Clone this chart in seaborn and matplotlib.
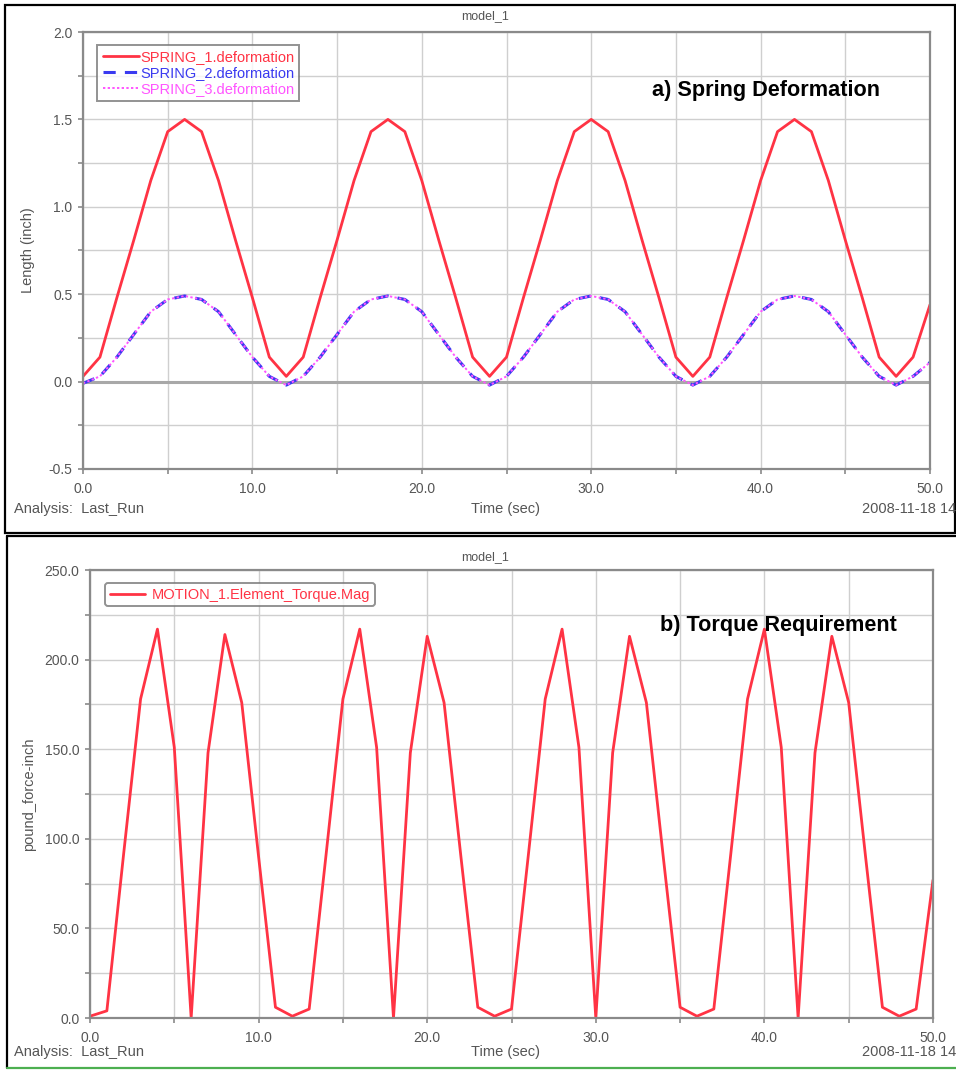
import matplotlib
matplotlib.use("Agg")
import matplotlib.pyplot as plt
import seaborn as sns
import pandas as pd
from matplotlib.patches import Rectangle
from matplotlib.lines import Line2D
from matplotlib.ticker import MultipleLocator, FuncFormatter

# ---------------- data ----------------
time_sec = list(range(0, 51))

spring_1 = [0.03, 0.14, 0.48, 0.81, 1.15, 1.43, 1.50, 1.43, 1.15, 0.81, 0.48, 0.14,
            0.03, 0.14, 0.48, 0.81, 1.15, 1.43, 1.50, 1.43, 1.15, 0.81, 0.48, 0.14,
            0.03, 0.14, 0.48, 0.81, 1.15, 1.43, 1.50, 1.43, 1.15, 0.81, 0.48, 0.14,
            0.03, 0.14, 0.48, 0.81, 1.15, 1.43, 1.50, 1.43, 1.15, 0.81, 0.48, 0.14,
            0.03, 0.14, 0.44]
spring_2 = [-0.01, 0.03, 0.14, 0.27, 0.40, 0.47, 0.49, 0.47, 0.40, 0.27, 0.14, 0.03,
            -0.02, 0.03, 0.14, 0.27, 0.40, 0.47, 0.49, 0.47, 0.40, 0.27, 0.14, 0.03,
            -0.02, 0.03, 0.14, 0.27, 0.40, 0.47, 0.49, 0.47, 0.40, 0.27, 0.14, 0.03,
            -0.02, 0.03, 0.14, 0.27, 0.40, 0.47, 0.49, 0.47, 0.40, 0.27, 0.14, 0.03,
            -0.02, 0.03, 0.11]
spring_3 = [-0.01, 0.03, 0.14, 0.27, 0.40, 0.47, 0.49, 0.47, 0.40, 0.27, 0.14, 0.03,
            -0.02, 0.03, 0.14, 0.27, 0.40, 0.47, 0.49, 0.47, 0.40, 0.27, 0.14, 0.03,
            -0.02, 0.03, 0.14, 0.27, 0.40, 0.47, 0.49, 0.47, 0.40, 0.27, 0.14, 0.03,
            -0.02, 0.03, 0.14, 0.27, 0.40, 0.47, 0.49, 0.47, 0.40, 0.27, 0.14, 0.03,
            -0.02, 0.03, 0.11]
torque_mag = [1, 4, 92, 178, 217, 151, 0, 148, 214, 176, 90, 6,
              1, 5, 91, 178, 217, 151, 0, 148, 213, 176, 90, 6,
              1, 5, 91, 178, 217, 151, 0, 148, 213, 176, 90, 6,
              1, 5, 91, 178, 217, 151, 0, 148, 213, 176, 90, 6,
              1, 5, 77]

spring_labels = ["SPRING_1.deformation", "SPRING_2.deformation", "SPRING_3.deformation"]
torque_label = "MOTION_1.Element_Torque.Mag"

# ---------------- styling ----------------
sns.set_theme(style="white")
plt.rcParams["font.family"] = ["Liberation Sans", "DejaVu Sans"]
plt.rcParams["axes.unicode_minus"] = False

RED = "#ff3344"
BLUE = "#3a3af0"
MAGENTA = "#ff55ff"
GRID = "#cfcfcf"
AXC = "#8a8a8a"
TXT = "#555555"

W, H = 956, 1070
fig = plt.figure(figsize=(W / 100, H / 100), dpi=100)


def fx(px):
    return px / W


def fy(py):
    return 1 - py / H


def style_axis(ax, xstep, ystep, xlab_every, ylab_every):
    ax.xaxis.set_major_locator(MultipleLocator(xstep))
    ax.yaxis.set_major_locator(MultipleLocator(ystep))

    def fmt_x(v, pos):
        return f"{v:.1f}" if abs(v / xlab_every - round(v / xlab_every)) < 1e-6 else ""

    def fmt_y(v, pos):
        return f"{v:.1f}" if abs(v / ylab_every - round(v / ylab_every)) < 1e-6 else ""

    ax.xaxis.set_major_formatter(FuncFormatter(fmt_x))
    ax.yaxis.set_major_formatter(FuncFormatter(fmt_y))
    ax.grid(True, color=GRID, lw=1.0)
    ax.set_axisbelow(True)
    for s in ax.spines.values():
        s.set_color(AXC)
        s.set_linewidth(1.6)
    ax.tick_params(axis="both", which="major", direction="out", length=3.5,
                   width=1.2, color=AXC, labelsize=10, labelcolor=TXT, pad=4,
                   bottom=True, left=True)
    ax.tick_params(axis="x", pad=6)


BOLD_FAM = ["Liberation Sans Narrow", "Liberation Sans", "DejaVu Sans"]

# ---------------- panel a ----------------
ax1 = fig.add_axes([fx(83), fy(469), fx(930) - fx(83), fy(32) - fy(469)])
df1 = pd.DataFrame({"t": time_sec, "s1": spring_1, "s2": spring_2, "s3": spring_3})
sns.lineplot(data=df1, x="t", y="s1", ax=ax1, color=RED, lw=2.0, label=spring_labels[0])
sns.lineplot(data=df1, x="t", y="s2", ax=ax1, color=BLUE, lw=2.2, label=spring_labels[1])
sns.lineplot(data=df1, x="t", y="s3", ax=ax1, color=MAGENTA, lw=1.4, label=spring_labels[2])
ax1.lines[1].set_dashes([4, 3])
ax1.lines[2].set_dashes([1.2, 1.2])
ax1.axhline(0.0, color="#a8a8a8", lw=2.2, zorder=1)
ax1.set_xlim(0, 50)
ax1.set_ylim(-0.5, 2.0)
style_axis(ax1, 5, 0.25, 10, 0.5)
ax1.set_xlabel("")
ax1.set_ylabel("Length (inch)", fontsize=10.5, color=TXT, labelpad=10)

h1 = [Line2D([], [], color=RED, lw=2.0),
      Line2D([], [], color=BLUE, lw=2.2, dashes=[4, 3]),
      Line2D([], [], color=MAGENTA, lw=1.4, dashes=[1.2, 1.2])]
leg1 = ax1.legend(h1, spring_labels, loc="upper left", bbox_to_anchor=(0.017, 0.97),
                  fontsize=10.5, labelcolor=[RED, BLUE, MAGENTA], frameon=True,
                  fancybox=False, edgecolor="#777777", handlelength=2.5,
                  handletextpad=0.08, borderpad=0.35, labelspacing=0.12, borderaxespad=0)
leg1.get_frame().set_linewidth(1.4)

ax1.text(0.672, 0.866, "a) Spring Deformation", transform=ax1.transAxes,
         fontsize=15.6, fontweight="bold", color="black", family=BOLD_FAM, va="center")

# ---------------- panel b ----------------
ax2 = fig.add_axes([fx(90), fy(1018), fx(933) - fx(90), fy(570) - fy(1018)])
df2 = pd.DataFrame({"t": time_sec, "torque": torque_mag})
sns.lineplot(data=df2, x="t", y="torque", ax=ax2, color=RED, lw=2.0, label=torque_label)
ax2.set_xlim(0, 50)
ax2.set_ylim(0, 250)
style_axis(ax2, 5, 25, 10, 50)
ax2.set_xlabel("")
ax2.set_ylabel("pound_force-inch", fontsize=10.5, color=TXT, labelpad=6)
leg2 = ax2.legend([Line2D([], [], color=RED, lw=2.0)], [torque_label], loc="upper left",
                  bbox_to_anchor=(0.018, 0.97), fontsize=10.5, labelcolor=[RED],
                  frameon=True, fancybox=True, edgecolor="#777777", handlelength=2.4,
                  handletextpad=0.5, borderpad=0.3, borderaxespad=0)
leg2.get_frame().set_linewidth(1.4)

ax2.text(0.676, 0.875, "b) Torque Requirement", transform=ax2.transAxes,
         fontsize=15.6, fontweight="bold", color="black", family=BOLD_FAM, va="center")

# ---------------- surrounding texts ----------------
for top_y, xl_y in [(16, 509), (557, 1052)]:
    fig.text(fx(485), fy(top_y), "model_1", fontsize=9, color=TXT, ha="center", va="center")
    fig.text(fx(505), fy(xl_y), "Time (sec)", fontsize=10.5, color=TXT, ha="center", va="center")
    fig.text(fx(14), fy(xl_y), "Analysis:  Last_Run", fontsize=10.5, color=TXT, ha="left", va="center")
    fig.text(fx(956), fy(xl_y), "2008-11-18 14", fontsize=10.5, color=TXT, ha="right", va="center")

# panel borders
fig.patches.append(Rectangle((fx(5), fy(533)), fx(955) - fx(5), fy(5) - fy(533),
                             transform=fig.transFigure, fill=False, ec="black", lw=1.6))
fig.add_artist(Line2D([fx(7), fx(7)], [fy(536), fy(1068)], transform=fig.transFigure,
                      color="black", lw=1.6))
fig.add_artist(Line2D([fx(7), fx(956)], [fy(536), fy(536)], transform=fig.transFigure,
                      color="black", lw=1.6))
fig.add_artist(Line2D([fx(7), fx(956)], [fy(1068), fy(1068)], transform=fig.transFigure,
                      color="#4caf50", lw=1.6))

fig.savefig("out.png", dpi=100, facecolor="white")
